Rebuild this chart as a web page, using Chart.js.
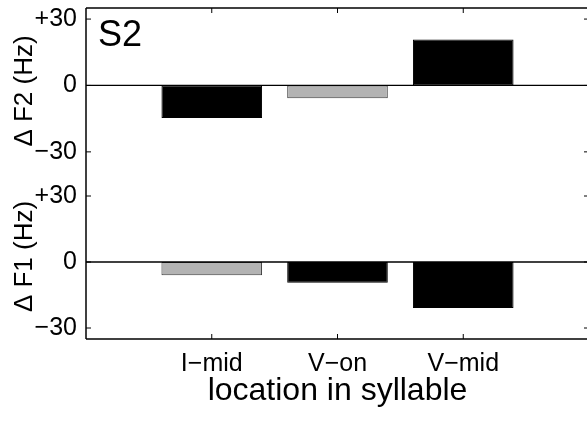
<!DOCTYPE html>
<html>
<head>
<meta charset="utf-8">
<script src="https://cdn.jsdelivr.net/npm/chart.js@4.4.0/dist/chart.umd.min.js"></script>
<style>
  body { margin: 0; background: #fff; overflow: hidden; }
  #wrap { position: relative; width: 587px; height: 421px; overflow: hidden; }
  .panel { position: absolute; left: 0; }
</style>
</head>
<body>
<div id="wrap">
  <div class="panel" style="top:0"><canvas id="f2Chart" width="592" height="174"></canvas></div>
  <div class="panel" style="top:174px"><canvas id="f1Chart" width="592" height="247"></canvas></div>
</div>
<script>
// S2 - formant shift by location in syllable

const categories = ["I\u2212mid", "V\u2212on", "V\u2212mid"];
const xPositions = [1, 2, 3];
const yTicks = [-30, 0, 30];

// delta F2 (Hz), top panel
const f2Values = [-14.7, -5.8, 20.8];
const f2Significant = [true, false, true];

// delta F1 (Hz), bottom panel
const f1Values = [-6.0, -9.4, -20.9];
const f1Significant = [false, true, true];

const FONT = "'Liberation Sans', Arial, Helvetica, sans-serif";
const GREY = "#b3b3b3";

function fillFor(sig) { return sig.map(s => s ? "#000000" : GREY); }
function edgeFor(sig) { return sig.map(s => s ? "#000000" : "#3a3a3a"); }

// no extra room for half tick labels, the box is fixed
function noPad(s) {
    s.paddingTop = 0;
    s.paddingBottom = 0;
    s.paddingLeft = 0;
    s.paddingRight = 0;
}

// matlab-ish box with inward ticks + zero line
const framePlugin = {
    id: 'frame',
    afterDatasetsDraw(chart, args, opts) {
        const ctx = chart.ctx;
        const a = chart.chartArea;
        const x = chart.scales.x, y = chart.scales.y;
        const seg = (x1, y1, x2, y2) => { ctx.beginPath(); ctx.moveTo(x1, y1); ctx.lineTo(x2, y2); ctx.stroke(); };
        ctx.save();
        ctx.strokeStyle = "#000";
        ctx.lineWidth = 1.3;
        const y0 = y.getPixelForValue(0);
        seg(a.left, y0, a.right, y0);

        ctx.lineWidth = 1.5;
        seg(a.left, a.top, a.left, a.bottom);
        seg(a.right, a.top, a.right, a.bottom);
        const edgeY = opts.edge === 'top' ? a.top : a.bottom;
        seg(a.left, edgeY, a.right, edgeY);

        ctx.lineWidth = 1;
        yTicks.forEach(v => {
            const py = y.getPixelForValue(v);
            seg(a.left, py, a.left + 5, py);
            seg(a.right - 5, py, a.right, py);
        });
        xPositions.forEach(v => {
            const px = x.getPixelForValue(v);
            if (opts.edge === 'top') seg(px, a.top, px, a.top + 5);
            else seg(px, a.bottom - 5, px, a.bottom);
        });

        if (opts.tag) {
            ctx.fillStyle = "#000";
            ctx.font = "36px " + FONT;
            ctx.textBaseline = "alphabetic";
            ctx.textAlign = "left";
            ctx.fillText(opts.tag, a.left + 12, a.top + 38);
        }
        ctx.restore();
    }
};

function yTickLabel(v) {
    if (v > 0) return "+" + v;
    if (v < 0) return "\u2212" + Math.abs(v);
    return "0";
}

function makePanel(canvasId, values, sig, yMin, yMax, yTitle, showX, pad, tag) {
    return new Chart(document.getElementById(canvasId), {
        type: 'bar',
        data: {
            datasets: [{
                data: values.map((v, i) => ({ x: xPositions[i], y: v })),
                backgroundColor: fillFor(sig),
                borderColor: edgeFor(sig),
                borderWidth: 1,
                borderSkipped: false,
                barPercentage: 0.8,
                categoryPercentage: 1.0
            }]
        },
        options: {
            responsive: false,
            animation: false,
            layout: { padding: pad },
            plugins: {
                legend: { display: false },
                tooltip: { enabled: false },
                frame: { edge: showX ? 'bottom' : 'top', tag: tag }
            },
            scales: {
                x: {
                    type: 'linear',
                    min: 0,
                    max: 4,
                    offset: false,
                    display: showX,
                    grid: { display: false, drawTicks: false },
                    border: { display: false },
                    afterBuildTicks: s => { s.ticks = xPositions.map(v => ({ value: v })); },
                    afterFit: s => { s.height = showX ? 82 : 0; noPad(s); },
                    ticks: {
                        padding: 10,
                        color: "#000",
                        maxRotation: 0,
                        font: { family: FONT, size: 25 },
                        callback: v => categories[xPositions.indexOf(v)]
                    },
                    title: {
                        display: showX,
                        text: "location in syllable",
                        color: "#000",
                        font: { family: FONT, size: 32, lineHeight: 1.2 },
                        padding: { top: 0, bottom: 11 }
                    }
                },
                y: {
                    min: yMin,
                    max: yMax,
                    grid: { display: false, drawTicks: false },
                    border: { display: false },
                    afterBuildTicks: s => { s.ticks = yTicks.map(v => ({ value: v })); },
                    afterFit: s => { s.width = 86; noPad(s); },
                    ticks: {
                        padding: 9,
                        color: "#000",
                        font: { family: FONT, size: 25 },
                        callback: v => yTickLabel(v)
                    },
                    title: {
                        display: true,
                        text: yTitle,
                        color: "#000",
                        font: { family: FONT, size: 26, lineHeight: 1.2 },
                        padding: { top: 9, bottom: 0 }
                    }
                }
            }
        },
        plugins: [framePlugin]
    });
}

// TOP - delta F2
const f2Chart = makePanel("f2Chart", f2Values, f2Significant, -40, 35,
    "\u0394 F2 (Hz)", false, { top: 8, left: 0, right: 3, bottom: 0 }, "S2");

// BOTTOM - delta F1
const f1Chart = makePanel("f1Chart", f1Values, f1Significant, -35, 40,
    "\u0394 F1 (Hz)", true, { top: 0, left: 0, right: 3, bottom: 0 }, null);
</script>
</body>
</html>
